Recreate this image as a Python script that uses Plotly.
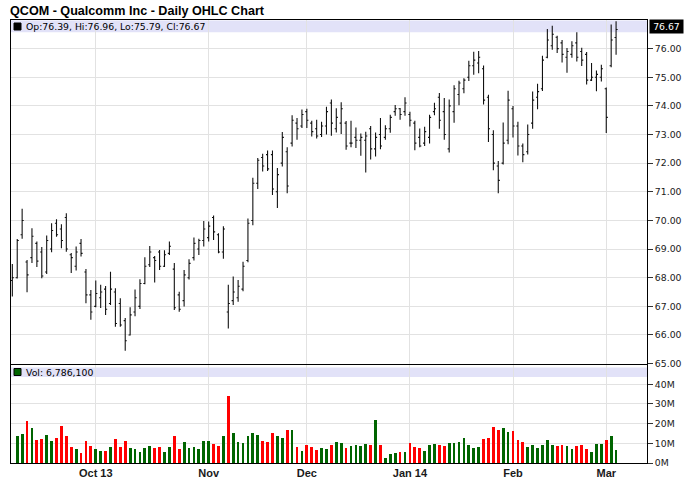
import plotly.graph_objects as go

# ---------------- data ----------------
sep13 = [6, 9, 10, 11, 12, 13, 16, 17, 18, 19, 20, 23, 24, 25, 26, 27, 30]
oct13 = [1, 2, 3, 4, 7, 8, 9, 10, 11, 14, 15, 16, 17, 18, 21, 22, 23, 24, 25, 28, 29, 30, 31]
nov13 = [1, 4, 5, 6, 7, 8, 11, 12, 13, 14, 15, 18, 19, 20, 21, 22, 25, 26, 27, 29]
dec13 = [2, 3, 4, 5, 6, 9, 10, 11, 12, 13, 16, 17, 18, 19, 20, 23, 24, 26, 27, 30, 31]
jan14 = [2, 3, 6, 7, 8, 9, 10, 13, 14, 15, 16, 17, 21, 22, 23, 24, 27, 28, 29, 30, 31]
feb14 = [3, 4, 5, 6, 7, 10, 11, 12, 13, 14, 18, 19, 20, 21, 24, 25, 26, 27, 28]
mar14 = [3, 4, 5]

opens = [67.90, 68.00, 69.50, 68.55, 68.70, 69.20, 68.90, 68.20, 69.00, 69.90,
         69.70, 70.10, 68.80, 68.40, 69.20, 68.20, 67.40, 67.00, 67.30, 67.60,
         67.10, 67.50, 67.10, 66.50, 66.00, 66.80, 67.00, 67.80, 68.45, 68.70,
         68.90, 68.40, 68.85, 68.30, 67.40, 67.20, 68.00, 68.70, 69.00, 69.30,
         69.40, 70.10, 69.50, 68.90, 66.80, 67.20, 67.30, 67.60, 68.60, 70.00,
         71.30, 72.20, 72.30, 72.30, 71.00, 72.00, 72.40, 72.70, 73.40, 73.30,
         73.80, 73.40, 73.20, 73.00, 73.30, 74.10, 73.20, 73.40, 73.40, 72.70,
         72.90, 72.80, 72.80, 73.20, 72.50, 73.00, 72.90, 73.20, 73.80, 73.90,
         73.80, 73.70, 73.40, 72.90, 72.70, 72.90, 73.80, 74.30, 73.80, 72.50,
         73.80, 74.40, 74.60, 75.00, 75.40, 75.50, 75.30, 74.30, 73.00, 71.90,
         72.00, 72.80, 73.90, 73.30, 72.60, 72.40, 73.40, 74.30, 74.60, 75.70,
         76.10, 76.40, 76.20, 75.70, 75.80, 76.20, 75.90, 75.80, 74.90, 75.00,
         75.00, 74.60, 75.40, 76.39]

highs = [68.48, 69.35, 70.41, 68.62, 69.73, 69.26, 69.07, 69.47, 69.90, 70.04,
         69.87, 70.25, 68.86, 69.09, 69.35, 68.30, 67.57, 67.90, 67.75, 67.71,
         68.21, 67.63, 67.28, 66.59, 66.97, 67.59, 67.95, 68.71, 69.11, 68.76,
         68.97, 68.96, 69.26, 68.51, 67.51, 68.27, 68.64, 69.40, 69.36, 69.98,
         69.96, 70.17, 69.55, 69.80, 67.75, 68.04, 67.92, 68.56, 70.07, 71.49,
         72.18, 72.33, 72.44, 72.44, 71.83, 73.09, 72.56, 73.67, 73.58, 73.87,
         73.90, 73.48, 73.52, 73.45, 73.97, 74.22, 73.92, 74.13, 73.47, 73.48,
         73.25, 73.04, 73.10, 73.30, 73.07, 73.58, 73.32, 73.69, 74.03, 73.93,
         74.30, 73.80, 73.48, 73.21, 73.27, 73.69, 74.11, 74.45, 74.28, 74.22,
         74.72, 74.88, 74.97, 75.58, 75.89, 75.92, 75.41, 74.39, 73.15, 72.08,
         73.42, 74.53, 74.00, 73.45, 72.69, 73.35, 74.50, 74.77, 75.75, 76.69,
         76.80, 76.45, 76.30, 76.02, 76.26, 76.57, 76.03, 75.88, 75.50, 75.24,
         75.44, 74.64, 76.84, 76.96]

lows = [67.34, 67.97, 69.36, 67.49, 68.51, 68.37, 67.98, 68.13, 68.89, 69.43,
        69.03, 68.91, 68.16, 68.25, 68.74, 67.11, 66.53, 66.97, 66.94, 66.70,
        67.05, 66.29, 66.29, 65.45, 65.98, 66.65, 66.91, 67.77, 68.37, 67.83,
        68.27, 68.37, 68.79, 66.87, 66.81, 66.99, 67.94, 68.60, 68.79, 69.09,
        69.26, 69.32, 68.85, 68.66, 66.23, 67.05, 67.16, 67.53, 68.54, 69.83,
        71.10, 71.71, 71.73, 70.89, 70.43, 71.88, 70.95, 72.58, 72.82, 73.23,
        73.23, 72.93, 72.86, 72.91, 73.00, 72.96, 73.07, 73.02, 72.47, 72.56,
        72.53, 72.26, 71.67, 72.13, 72.23, 72.49, 72.82, 73.06, 73.66, 73.52,
        73.66, 73.28, 72.45, 72.56, 72.60, 72.69, 73.67, 73.20, 72.82, 72.37,
        73.41, 74.02, 74.44, 74.87, 75.09, 75.14, 74.05, 72.74, 71.75, 70.95,
        71.95, 72.66, 72.90, 72.27, 72.03, 72.30, 73.20, 73.88, 74.52, 75.66,
        75.96, 75.85, 75.52, 75.16, 75.68, 75.55, 75.39, 74.75, 74.87, 74.51,
        74.85, 73.05, 75.35, 75.79]

closes = [68.00, 69.30, 70.00, 68.10, 69.45, 68.58, 68.06, 69.30, 69.65, 69.50,
          69.30, 69.00, 68.70, 68.90, 68.85, 67.40, 66.80, 67.45, 67.50, 66.90,
          67.60, 66.40, 66.35, 65.80, 66.70, 67.30, 67.80, 68.40, 68.90, 68.60,
          68.40, 68.80, 69.10, 66.95, 66.90, 68.10, 68.50, 69.20, 69.30, 69.70,
          69.80, 69.60, 68.90, 69.70, 67.10, 67.50, 67.70, 68.40, 69.90, 71.30,
          72.10, 71.90, 71.80, 71.10, 71.60, 72.90, 71.20, 73.50, 73.20, 73.70,
          73.50, 73.10, 72.95, 73.30, 73.80, 73.40, 73.60, 73.90, 72.60, 72.70,
          72.80, 72.90, 72.95, 72.50, 72.90, 72.60, 73.20, 73.60, 73.90, 73.70,
          74.10, 73.50, 72.70, 72.60, 73.10, 73.60, 73.90, 73.50, 73.00, 74.00,
          74.60, 74.80, 74.90, 75.40, 75.60, 75.70, 74.20, 73.20, 72.00, 71.40,
          72.70, 74.20, 73.30, 72.60, 72.30, 73.00, 74.20, 74.50, 75.60, 76.30,
          76.50, 76.00, 75.80, 75.90, 76.10, 75.70, 75.60, 74.90, 75.00, 75.10,
          75.30, 73.60, 76.30, 76.67]

volume_m = [None, 13.9, 14.7, 21.4, 17.8, 11.9, 12.2, 14.2, 11.4, 12.7,
            18.8, 13.7, 8.1, 7.1, 5.1, 11.4, 8.8, 7.1, 6.3, 6.3,
            8.1, 12.2, 8.1, 11.4, 7.6, 7.1, 5.6, 7.6, 8.8, 7.8,
            8.1, 5.6, 8.1, 13.9, 7.1, 10.8, 7.8, 8.1, 7.3, 11.4,
            11.4, 9.8, 8.8, 13.7, 34.2, 15.3, 10.8, 10.2, 13.7, 15.3,
            14.2, 11.4, 10.8, 15.3, 13.7, 12.7, 16.9, 16.8, 8.1, 6.3,
            9.2, 8.1, 6.8, 7.8, 7.1, 9.2, 10.8, 10.5, 8.0, 9.0,
            9.3, 8.8, 9.8, 9.3, 21.9, 9.3, 2.9, 4.6, 5.3, 5.8,
            5.8, 10.3, 8.3, 7.8, 6.3, 9.3, 9.8, 9.3, 8.8, 10.3,
            10.3, 10.8, 12.9, 9.3, 7.8, 8.3, 12.4, 12.9, 18.3, 16.8,
            17.8, 15.8, 16.3, 11.9, 10.8, 8.3, 9.3, 7.8, 9.3, 11.9,
            9.3, 8.8, 9.3, 8.8, 7.3, 8.8, 9.3, 7.3, 5.8, 9.8,
            9.8, 11.9, 13.9, 6.7861]

month_tick_dates = ["2013-10-01", "2013-11-01", "2013-12-02", "2014-01-02", "2014-02-03", "2014-03-03"]
month_tick_labels = ["Oct 13", "Nov", "Dec", "Jan 14", "Feb", "Mar"]
price_ticks = [65, 66, 67, 68, 69, 70, 71, 72, 73, 74, 75, 76]
vol_ticks_m = [0, 10, 20, 30, 40]

# ---------------- build ----------------
dates = ([f"2013-09-{d:02d}" for d in sep13] + [f"2013-10-{d:02d}" for d in oct13] +
         [f"2013-11-{d:02d}" for d in nov13] + [f"2013-12-{d:02d}" for d in dec13] +
         [f"2014-01-{d:02d}" for d in jan14] + [f"2014-02-{d:02d}" for d in feb14] +
         [f"2014-03-{d:02d}" for d in mar14])

volume = [None if v is None else v * 1e6 for v in volume_m]
GREEN, RED = "#006400", "#FF0000"
vol_colors = [GREEN] + [GREEN if closes[i] >= closes[i - 1] else RED for i in range(1, len(closes))]

n = len(dates)
x_range = [-0.27, n - 1 + 6.3]

TICK_FONT = dict(family="DejaVu Sans", size=9.3, color="#1a1a1a")
GRID = "#E2E2E2"

fig = go.Figure()
fig.add_trace(go.Ohlc(
    x=dates, open=opens, high=highs, low=lows, close=closes,
    increasing=dict(line=dict(color="#111111", width=1.1)),
    decreasing=dict(line=dict(color="#111111", width=1.1)),
    tickwidth=0.32, xaxis="x2", yaxis="y2", showlegend=False, hoverinfo="skip"))
fig.add_trace(go.Bar(
    x=dates, y=volume, marker=dict(color=vol_colors, line=dict(width=0)),
    width=0.56, xaxis="x", yaxis="y", showlegend=False, hoverinfo="skip"))

L, R, T, B = 11, 41, 20, 40
W, H = 688, 503
ph = H - T - B
pw = W - L - R


def py(ypx):
    return (H - B - ypx) / ph


def px(xpx):
    return (xpx - L) / pw


vol_top = py(364.6)
price_bot = py(363.6)

common_x = dict(type="category", range=x_range, tickvals=month_tick_dates,
                showgrid=True, gridcolor=GRID, gridwidth=1, zeroline=False,
                showline=True, linecolor="black", linewidth=1, mirror=True,
                ticks="", rangeslider=dict(visible=False), fixedrange=True,
                automargin=False)

fig.update_layout(
    width=W, height=H,
    margin=dict(l=L, r=R, t=T, b=B, autoexpand=False),
    paper_bgcolor="white", plot_bgcolor="white",
    bargap=0,
    xaxis=dict(domain=[0, 1], anchor="y",
               ticktext=[f"<b>{t}</b>" for t in month_tick_labels],
               tickfont=dict(family="Liberation Sans", size=11, color="#1a1a1a"),
               **common_x),
    xaxis2=dict(domain=[0, 1], anchor="y2", matches="x", showticklabels=False,
                **common_x),
    yaxis=dict(domain=[0, vol_top], side="right", range=[0, 50e6],
               tickvals=[v * 1e6 for v in vol_ticks_m],
               ticktext=[f"{v}M" for v in vol_ticks_m],
               tickfont=TICK_FONT, ticks="outside", ticklen=5, tickcolor="#333",
               showgrid=True, gridcolor=GRID, zeroline=False, automargin=False,
               showline=True, linecolor="black", linewidth=1, mirror=True),
    yaxis2=dict(domain=[price_bot, 1], side="right", range=[65, 77],
                tickvals=price_ticks, ticktext=[f"{v:.2f}" for v in price_ticks],
                tickfont=TICK_FONT, ticks="outside", ticklen=5, tickcolor="#333",
                showgrid=True, gridcolor=GRID, zeroline=False, automargin=False,
                showline=True, linecolor="black", linewidth=1, mirror=True),
)

BAND = "#E2E2F8"
shapes = [
    dict(type="rect", xref="paper", yref="paper", x0=0, x1=1, y0=py(32.3), y1=py(20.5),
         fillcolor=BAND, line=dict(width=0), layer="below"),
    dict(type="rect", xref="paper", yref="paper", x0=0, x1=1, y0=py(377), y1=py(367.5),
         fillcolor=BAND, line=dict(width=0), layer="below"),
    dict(type="rect", xref="paper", yref="paper", x0=px(14), x1=px(21), y0=py(30), y1=py(23),
         fillcolor="black", line=dict(color="black", width=1)),
    dict(type="rect", xref="paper", yref="paper", x0=px(14), x1=px(21), y0=py(375.5), y1=py(368.5),
         fillcolor=GREEN, line=dict(color="black", width=1)),
]
fig.update_layout(shapes=shapes)

fig.update_layout(title=dict(
    text="<b>QCOM - Qualcomm Inc - Daily OHLC Chart</b>",
    xref="container", yref="container", x=10 / W, y=1 - 10.5 / H,
    xanchor="left", yanchor="middle", pad=dict(l=0, r=0, t=0, b=0),
    font=dict(family="Liberation Sans", size=12.6, color="black")))

LEG_FONT = dict(family="DejaVu Sans", size=9.3, color="black")
annotations = [
    dict(text=f"Op:{opens[-1]:.2f}, Hi:{highs[-1]:.2f}, Lo:{lows[-1]:.2f}, Cl:{closes[-1]:.2f}",
         xref="paper", yref="paper", x=px(23.5), y=py(26.6), xanchor="left", yanchor="middle",
         showarrow=False, font=LEG_FONT),
    dict(text=f"Vol: {int(round(volume[-1])):,}",
         xref="paper", yref="paper", x=px(23.5), y=py(372.3), xanchor="left", yanchor="middle",
         showarrow=False, font=LEG_FONT),
    dict(text=f"{closes[-1]:.2f}", xref="paper", yref="y2", x=1, y=closes[-1],
         xanchor="left", yanchor="middle", xshift=2, yshift=3, showarrow=False,
         bgcolor="black", borderpad=1, width=31, height=11,
         font=dict(family="DejaVu Sans", size=9.3, color="white")),
]
fig.update_layout(annotations=annotations)

fig.write_html("out.html", config={"displayModeBar": False},
               post_script="document.body.style.margin='0px';document.body.style.overflow='hidden';")
